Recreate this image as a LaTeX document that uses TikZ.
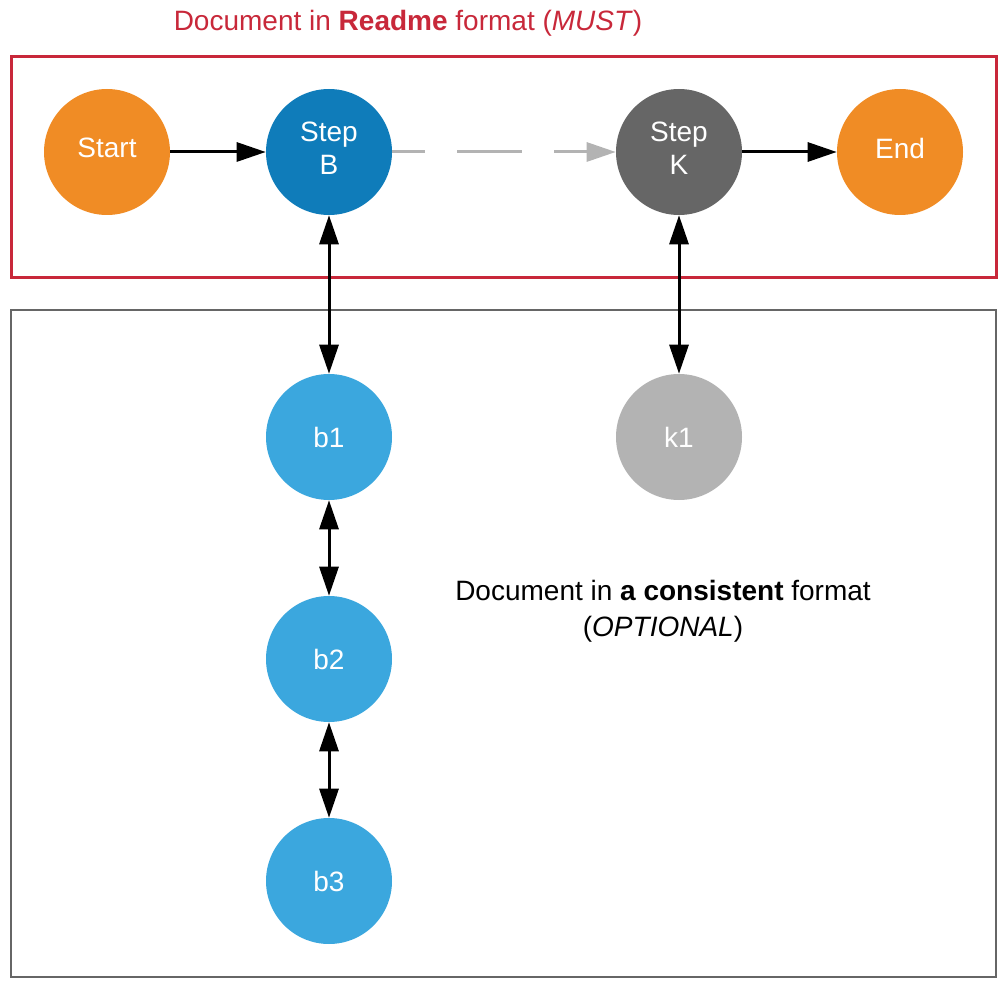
\documentclass[tikz,border=0pt]{standalone}
\usepackage{fontspec}
\setmainfont{Liberation Sans}
\usetikzlibrary{arrows.meta}
\definecolor{orangeC}{HTML}{F08C25}
\definecolor{blueDark}{HTML}{0F7CBA}
\definecolor{blueLight}{HTML}{3BA7DE}
\definecolor{grayDark}{HTML}{666666}
\definecolor{grayLight}{HTML}{B3B3B3}
\definecolor{redC}{HTML}{C8283A}
\tikzset{
  stepnode/.style={circle, draw=none, minimum size=94.5pt, inner sep=0pt, text=white, align=center,
    font=\fontsize{21}{24.75}\selectfont},
  mainnode/.style={stepnode, text depth=6pt},
  tip/.style={-{Triangle[length=21.75pt,width=14.25pt]}},
  conn/.style={line width=2.25pt, black},
  frame/.style={line width=2.25pt},
}
\begin{document}
\begin{tikzpicture}[x=0.75pt,y=-0.75pt]
\useasboundingbox (0,0) rectangle (1000,984);
% frames
\draw[frame, draw=redC] (11,57) rectangle (996,278);
\draw[line width=1.5pt, draw=grayDark] (11,310) rectangle (996,977);
% labels
\node[anchor=base, text=redC, font=\fontsize{21}{27}\selectfont, inner sep=0pt] (title) at (408,31)
  {Document in \textbf{Readme} format (\textit{MUST})};
\node[anchor=base, align=center, font=\fontsize{21}{27}\selectfont, inner sep=0pt] (optlabel) at (663,636)
  {Document in \textbf{a consistent} format\\(\textit{OPTIONAL})};
% nodes
\node[mainnode, fill=orangeC] (start) at (107,152) {Start};
\node[mainnode, fill=blueDark] (stepb) at (329,152) {Step\\B};
\node[mainnode, fill=grayDark] (stepk) at (679,152) {Step\\K};
\node[mainnode, fill=orangeC] (end) at (900,152) {End};
\node[stepnode, fill=blueLight] (b1) at (329,437) {b1};
\node[stepnode, fill=blueLight] (b2) at (329,659) {b2};
\node[stepnode, fill=blueLight] (b3) at (329,881) {b3};
\node[stepnode, fill=grayLight] (k1) at (679,437) {k1};
% connectors
\draw[conn, tip] (start) -- (stepb);
\draw[conn, tip] (stepk) -- (end);
\draw[line width=2.25pt, grayLight, -{Triangle[length=21.75pt,width=14.25pt]},
  dash pattern=on 48.75pt off 24pt, dash phase=24pt] (stepb) -- (stepk);
\draw[conn, {Triangle[length=21.75pt,width=14.25pt]}-{Triangle[length=21.75pt,width=14.25pt]}] (stepb) -- (b1);
\draw[conn, {Triangle[length=21.75pt,width=14.25pt]}-{Triangle[length=21.75pt,width=14.25pt]}] (stepk) -- (k1);
\draw[conn, {Triangle[length=21.75pt,width=14.25pt]}-{Triangle[length=21.75pt,width=14.25pt]}] (b1) -- (b2);
\draw[conn, {Triangle[length=21.75pt,width=14.25pt]}-{Triangle[length=21.75pt,width=14.25pt]}] (b2) -- (b3);
\end{tikzpicture}
\end{document}
